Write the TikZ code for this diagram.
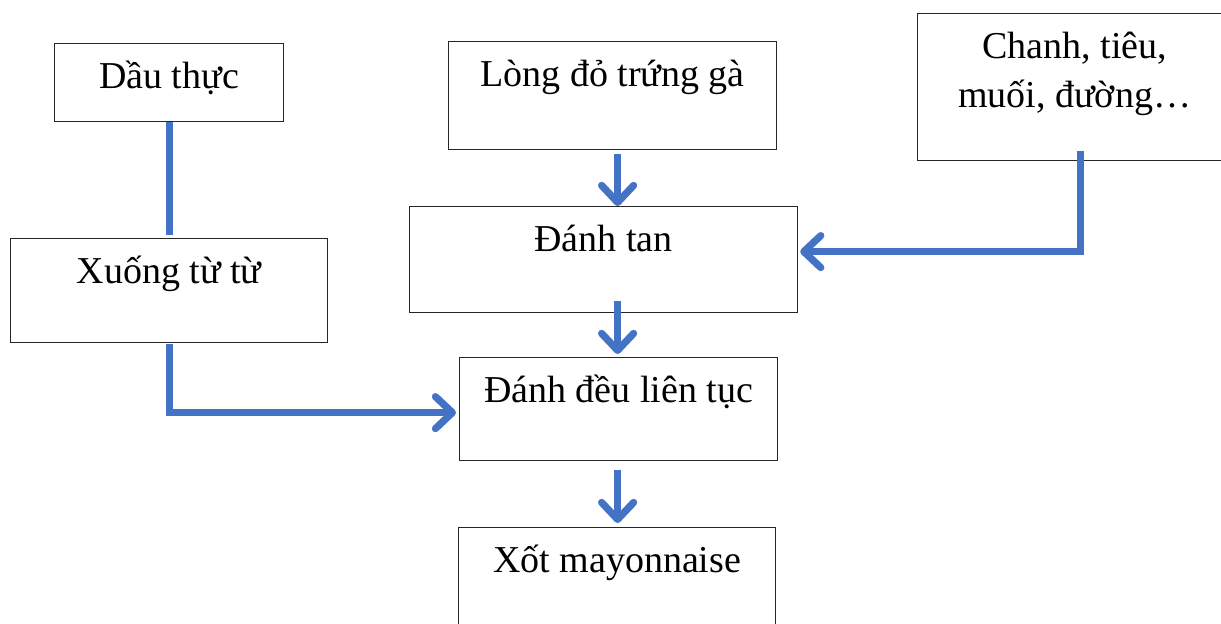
\documentclass[tikz,border=0pt]{standalone}
\usepackage{fontspec}
\setmainfont{Liberation Serif}
\usetikzlibrary{arrows.meta,calc,positioning}
\definecolor{flowblue}{HTML}{4472C4}

\begin{document}
\begin{tikzpicture}[x=0.5pt,y=-0.5pt,
  stepbox/.style={draw=black!85,line width=0.6pt,anchor=north west,inner sep=0pt,
    align=center,font=\fontsize{19pt}{24.5pt}\selectfont,text height=22.5pt},
  link/.style={flowblue,line width=3.6pt},
  flow/.style={link,-{Straight Barb[length=8.5pt,width=16pt,round]}}]
%
\useasboundingbox (0,0) rectangle (1221,623);
\clip (0,0) rectangle (1221,623);
%
\node[stepbox,minimum width=114.5pt,text depth=16.5pt] (dau) at (54,43) {Dầu thực};
\node[stepbox,minimum width=164pt,text depth=31.5pt] (long) at (448,41) {Lòng đỏ trứng gà};
\node[stepbox,minimum width=157pt,text height=47pt,text depth=26.5pt] (chanh) at (917,13) {Chanh, tiêu,\\muối, đường…};
\node[stepbox,minimum width=158.5pt,text depth=29.5pt] (xuong) at (10,238) {Xuống từ từ};
\node[stepbox,minimum width=194pt,text depth=30.5pt] (danh) at (409,206) {Đánh tan};
\node[stepbox,minimum width=159pt,text depth=29pt] (deu) at (459,357) {Đánh đều liên tục};
\node[stepbox,minimum width=158.5pt,text depth=37.5pt] (xot) at (458,527) {Xốt mayonnaise};
%
\draw[link] (dau.south) -- ($(xuong.north)+(0,-3)$);
\draw[flow] ($(xuong.south)+(0,1)$) |- ($(deu.west)+(-3,3.5)$);
\draw[flow] ($(long.south -| deu.north)+(-1,4)$) -- ($(danh.north -| deu.north)+(-1,0)$);
\draw[flow] ($(danh.south -| deu.north)+(-1,-12)$) -- ($(deu.north)+(-1,-3)$);
\draw[flow] ($(deu.south)+(-1,9)$) -- ($(xot.north -| deu.north)+(-1,-4)$);
\draw[flow] ($(chanh.south)+(6,-10)$) |- ($(danh.east)+(2,-8)$);
%
\end{tikzpicture}
\end{document}
